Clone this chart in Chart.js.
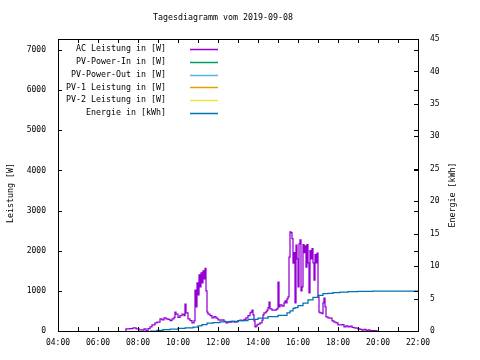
<!DOCTYPE html>
<html>
<head>
<meta charset="utf-8">
<script src="https://cdn.jsdelivr.net/npm/chart.js@4/dist/chart.umd.min.js"></script>
<style>
  html, body { margin: 0; padding: 0; background: #fff; }
  canvas { display: block; }
</style>
</head>
<body>
<canvas id="chart_tagesdiagramm" width="480" height="360"></canvas>
<script>
var chartTitle = 'Tagesdiagramm vom 2019-09-08';
var yTitle = 'Leistung [W]';
var y2Title = 'Energie [kWh]';
var seriesLabels = ['AC Leistung in [W]', 'PV-Power-In in [W]', 'PV-Power-Out in [W]', 'PV-1 Leistung in [W]', 'PV-2 Leistung in [W]', 'Energie in [kWh]'];
var seriesColors = ['#9400d3', '#009e73', '#56b4e9', '#e69f00', '#f0e442', '#0072b2'];

// AC Leistung [W]
var acTimes = [
  '07:21','07:24','07:36','07:45','07:54','08:03','08:12','08:18','08:24','08:30','08:36','08:42','08:51','08:57',
  '09:06','09:12','09:18','09:24','09:30','09:36','09:42','09:48','09:51','09:54','10:00','10:06','10:12','10:18',
  '10:21','10:24','10:30','10:36','10:42','10:48','10:51','10:54','10:57','11:00','11:03','11:06','11:09','11:12',
  '11:15','11:18','11:21','11:24','11:27','11:30','11:36','11:42','11:48','11:54','12:00','12:06','12:12','12:18',
  '12:24','12:30','12:36','12:42','12:48','12:54','13:00','13:06','13:12','13:18','13:24','13:30','13:36','13:39',
  '13:42','13:45','13:48','13:51','13:54','13:57','14:00','14:06','14:12','14:15','14:18','14:24','14:27','14:30',
  '14:33','14:36','14:42','14:48','14:54','14:57','15:00','15:03','15:06','15:12','15:18','15:21','15:24','15:27',
  '15:30','15:33','15:36','15:39','15:42','15:45','15:48','15:51','15:54','15:57','16:00','16:03','16:06','16:09',
  '16:12','16:15','16:18','16:21','16:24','16:27','16:30','16:33','16:36','16:39','16:42','16:45','16:48','16:51',
  '16:54','16:57','17:00','17:03','17:06','17:12','17:15','17:18','17:21','17:24','17:30','17:36','17:42','17:48',
  '17:54','18:00','18:06','18:12','18:18','18:24','18:30','18:36','18:42','18:48','18:54','19:00','19:06','19:12',
  '19:18','19:24','19:30','19:36','19:45','19:54','19:57'
];
var acWatts = [
  0,50,60,80,50,30,20,50,10,60,100,150,200,220,
  300,280,330,300,290,260,300,340,470,420,340,380,420,380,
  670,450,300,260,200,250,1020,600,1200,900,1400,1100,1450,1200,
  1500,1300,1560,1000,470,420,380,330,360,320,280,270,280,240,
  200,230,220,240,220,230,260,270,260,290,330,380,450,470,
  520,400,250,100,120,150,170,200,270,400,450,480,520,580,
  720,550,520,520,530,560,1220,600,650,620,700,750,700,800,
  850,1840,2470,2450,2300,1690,1950,700,2140,1800,1100,2170,2270,1000,
  1100,2150,1950,2120,1590,2150,1700,950,2000,1800,2050,1700,1270,1900,
  1700,1940,850,470,450,430,700,820,600,350,330,320,250,220,
  200,150,150,160,100,130,100,120,90,80,70,50,40,20,
  40,10,30,10,10,5,0
];

// Energie [kWh]
var energyTimes = [
  '08:36','08:57','09:15','09:36','10:00','10:21','10:45','11:00','11:12','11:27','11:45','12:06','12:36','13:00',
  '13:30','14:00','14:30','15:00','15:27','15:36','15:45','15:51','16:00','16:15','16:30','16:45','17:00','17:15',
  '17:30','17:45','18:06','18:30','19:00','19:45','22:00'
];
var energyKwh = [
  0,0.1,0.2,0.3,0.4,0.5,0.6,0.8,1.0,1.2,1.3,1.4,1.5,1.6,
  1.8,2.0,2.2,2.4,2.8,3.1,3.5,3.6,3.9,4.3,4.8,5.2,5.5,5.75,
  5.8,5.9,6.0,6.05,6.1,6.15,6.15
];

var xTickLabels = ['04:00','06:00','08:00','10:00','12:00','14:00','16:00','18:00','20:00','22:00'];

function toHours(t) {
  var p = t.split(':');
  return +p[0] + (+p[1]) / 60;
}
function points(times, values) {
  return times.map(function (t, i) { return { x: toHours(t), y: values[i] }; });
}

var monoFont = "'DejaVu Sans Mono', 'Liberation Mono', monospace";
Chart.defaults.font.family = monoFont;
Chart.defaults.font.size = 8;
Chart.defaults.color = '#000';

var datasets = seriesLabels.map(function (label, i) {
  return {
    label: label,
    data: [],
    borderColor: seriesColors[i],
    backgroundColor: seriesColors[i],
    borderWidth: 1.25,
    pointRadius: 0,
    stepped: true,
    fill: false,
    yAxisID: 'y',
    order: 1
  };
});
datasets[0].data = points(acTimes, acWatts);
datasets[5].data = points(energyTimes, energyKwh);
datasets[5].yAxisID = 'y2';
datasets[5].order = 0;

// gnuplot style border, inward ticks, key, title and axis titles
var gnuplotFrame = {
  id: 'gnuplotFrame',
  afterDraw: function (chart) {
    var ctx = chart.ctx, a = chart.chartArea;
    var sx = chart.scales.x, sy = chart.scales.y, sy2 = chart.scales.y2;
    ctx.save();
    ctx.strokeStyle = '#000';
    ctx.lineWidth = 1;
    ctx.strokeRect(Math.round(a.left) + 0.5, Math.round(a.top) + 0.5, Math.round(a.right - a.left), Math.round(a.bottom - a.top));
    ctx.beginPath();
    sx.ticks.forEach(function (t) {
      var px = Math.round(sx.getPixelForValue(t.value)) + 0.5;
      ctx.moveTo(px, a.bottom); ctx.lineTo(px, a.bottom - 4);
      ctx.moveTo(px, a.top); ctx.lineTo(px, a.top + 4);
    });
    sy.ticks.forEach(function (t) {
      var py = Math.round(sy.getPixelForValue(t.value)) + 0.5;
      ctx.moveTo(a.left, py); ctx.lineTo(a.left + 4, py);
      ctx.moveTo(a.right, py); ctx.lineTo(a.right - 4, py);
    });
    sy2.ticks.forEach(function (t) {
      var py = Math.round(sy2.getPixelForValue(t.value)) + 0.5;
      ctx.moveTo(a.right, py); ctx.lineTo(a.right - 4, py);
    });
    ctx.stroke();

    ctx.font = '8.3px ' + monoFont;
    ctx.fillStyle = '#000';
    ctx.textBaseline = 'middle';
    ctx.textAlign = 'center';
    ctx.fillText(chartTitle, 223, 18);

    ctx.save();
    ctx.translate(11, 193);
    ctx.rotate(-Math.PI / 2);
    ctx.fillText(yTitle, 0, 0);
    ctx.restore();
    ctx.save();
    ctx.translate(453, 195);
    ctx.rotate(-Math.PI / 2);
    ctx.fillText(y2Title, 0, 0);
    ctx.restore();

    ctx.textAlign = 'right';
    chart.data.datasets.forEach(function (ds, i) {
      var y = a.top + 10 + i * 12.8;
      ctx.fillStyle = '#000';
      ctx.fillText(ds.label, a.left + 108, y);
      ctx.strokeStyle = ds.borderColor;
      ctx.lineWidth = 1.5;
      ctx.beginPath();
      ctx.moveTo(a.left + 132, Math.round(y) + 0.5);
      ctx.lineTo(a.left + 160, Math.round(y) + 0.5);
      ctx.stroke();
    });
    ctx.restore();
  }
};

var chart_tagesdiagramm = new Chart(document.getElementById('chart_tagesdiagramm'), {
  type: 'line',
  data: { datasets: datasets },
  options: {
    animation: false,
    responsive: false,
    layout: { padding: { top: 39, left: 0, right: 0, bottom: 0 } },
    plugins: {
      legend: { display: false },
      title: { display: false },
      tooltip: { enabled: false }
    },
    scales: {
      x: {
        type: 'linear',
        min: 4,
        max: 22,
        afterFit: function (s) { s.height = 29; },
        grid: { display: false, drawTicks: false },
        border: { display: false },
        ticks: {
          stepSize: 1,
          autoSkip: false,
          maxRotation: 0,
          padding: 7,
          callback: function (v) {
            return v % 2 === 0 ? xTickLabels[(v - 4) / 2] : '';
          }
        }
      },
      y: {
        type: 'linear',
        position: 'left',
        min: 0,
        max: 7275,
        afterFit: function (s) { s.width = 58; },
        afterBuildTicks: function (s) {
          var vals = [];
          for (var v = 0; v <= s.max; v += 1000) vals.push({ value: v });
          s.ticks = vals;
        },
        grid: { display: false, drawTicks: false },
        border: { display: false },
        ticks: {
          padding: 12,
          autoSkip: false,
          callback: function (v) { return String(v); }
        }
      },
      y2: {
        type: 'linear',
        position: 'right',
        min: 0,
        max: 45,
        afterFit: function (s) { s.width = 62; },
        grid: { display: false, drawTicks: false },
        border: { display: false },
        ticks: {
          stepSize: 5,
          padding: 12,
          callback: function (v) { return String(v); }
        }
      }
    }
  },
  plugins: [gnuplotFrame]
});
</script>
</body>
</html>
